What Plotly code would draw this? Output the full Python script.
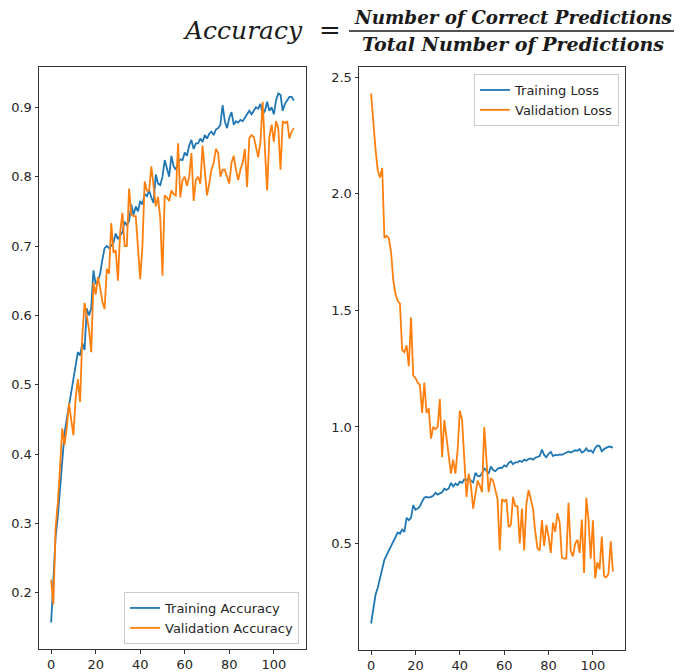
import plotly.graph_objects as go

epochs = list(range(110))

train_acc = [
    0.157, 0.21, 0.28, 0.31, 0.35, 0.39, 0.43, 0.45, 0.47, 0.49,
    0.51, 0.53, 0.547, 0.542, 0.56, 0.55, 0.61, 0.60, 0.61, 0.665,
    0.645, 0.65, 0.66, 0.68, 0.697, 0.70, 0.697, 0.70, 0.705, 0.718,
    0.71, 0.715, 0.72, 0.735, 0.73, 0.736, 0.76, 0.745, 0.757, 0.75,
    0.765, 0.76, 0.775, 0.772, 0.78, 0.77, 0.762, 0.803, 0.79, 0.788,
    0.80, 0.824, 0.81, 0.80, 0.83, 0.815, 0.81, 0.82, 0.825, 0.824,
    0.835, 0.83, 0.845, 0.853, 0.84, 0.848, 0.848, 0.855, 0.85, 0.86,
    0.855, 0.862, 0.865, 0.86, 0.868, 0.87, 0.875, 0.903, 0.88, 0.87,
    0.885, 0.893, 0.875, 0.88, 0.878, 0.882, 0.88, 0.885, 0.89, 0.895,
    0.89, 0.895, 0.90, 0.898, 0.905, 0.89, 0.895, 0.908, 0.895, 0.90,
    0.89, 0.91, 0.92, 0.918, 0.895, 0.905, 0.91, 0.915, 0.915, 0.91,
]

val_acc = [
    0.219, 0.183, 0.293, 0.33, 0.38, 0.437, 0.413, 0.437, 0.473, 0.45,
    0.427, 0.48, 0.508, 0.475, 0.57, 0.618, 0.60, 0.58, 0.547, 0.647,
    0.63, 0.655, 0.64, 0.62, 0.609, 0.667, 0.66, 0.733, 0.69, 0.694,
    0.65, 0.72, 0.748, 0.70, 0.70, 0.783, 0.745, 0.743, 0.743, 0.69,
    0.652, 0.70, 0.793, 0.78, 0.78, 0.815, 0.79, 0.757, 0.771, 0.74,
    0.657, 0.773, 0.77, 0.765, 0.78, 0.775, 0.773, 0.848, 0.77, 0.795,
    0.80, 0.787, 0.80, 0.834, 0.765, 0.795, 0.80, 0.79, 0.845, 0.81,
    0.773, 0.79, 0.81, 0.82, 0.84, 0.834, 0.80, 0.81, 0.81, 0.80,
    0.79, 0.82, 0.83, 0.81, 0.795, 0.81, 0.82, 0.84, 0.785, 0.856,
    0.86, 0.857, 0.84, 0.828, 0.85, 0.908, 0.84, 0.78, 0.857, 0.875,
    0.85, 0.88, 0.87, 0.81, 0.88, 0.877, 0.88, 0.855, 0.865, 0.87,
]

# The "Training Loss" curve in the reference carries the training accuracy values
train_loss = list(train_acc)

val_loss = [
    2.43, 2.30, 2.19, 2.10, 2.07, 2.11, 1.81, 1.82, 1.81, 1.75,
    1.63, 1.57, 1.54, 1.53, 1.33, 1.32, 1.35, 1.26, 1.47, 1.22,
    1.21, 1.19, 1.18, 1.06, 1.19, 1.06, 1.08, 0.95, 1.00, 0.99,
    1.00, 1.12, 0.87, 1.03, 0.96, 0.88, 0.80, 0.86, 0.80, 0.90,
    1.07, 1.03, 0.85, 0.70, 0.80, 0.75, 0.65, 0.72, 0.77, 0.75,
    0.72, 1.00, 0.86, 0.72, 0.78, 0.77, 0.73, 0.69, 0.47, 0.69,
    0.68, 0.69, 0.57, 0.58, 0.70, 0.66, 0.66, 0.50, 0.65, 0.47,
    0.67, 0.73, 0.69, 0.65, 0.55, 0.48, 0.47, 0.60, 0.49, 0.58,
    0.53, 0.46, 0.59, 0.55, 0.63, 0.59, 0.44, 0.435, 0.435, 0.675,
    0.467, 0.445, 0.50, 0.516, 0.46, 0.603, 0.374, 0.696, 0.603, 0.435,
    0.60, 0.35, 0.42, 0.39, 0.53, 0.36, 0.355, 0.37, 0.51, 0.38,
]

x_ticks = [0, 20, 40, 60, 80, 100]
acc_ticks = [0.2, 0.3, 0.4, 0.5, 0.6, 0.7, 0.8, 0.9]
loss_ticks = [0.5, 1.0, 1.5, 2.0, 2.5]

BLUE = "#1f77b4"
ORANGE = "#ff7f0e"
OFF = 8  # the page body adds an 8px margin
W, H = 682 - OFF, 672 - OFF
FONT = "DejaVu Sans"
TXT = "#262626"


def px(x):
    return (x - OFF) / W


def py(y):
    return 1 - (y - OFF) / H


def mpl_range(*series):
    lo = min(min(s) for s in series)
    hi = max(max(s) for s in series)
    pad = (hi - lo) * 0.05
    return [lo - pad, hi + pad]


xr = [min(epochs) - 0.05 * (max(epochs) - min(epochs)), max(epochs) + 0.05 * (max(epochs) - min(epochs))]

fig = go.Figure()
lw = 1.8
fig.add_trace(go.Scatter(x=epochs, y=train_acc, mode="lines", name="Training Accuracy",
                         line=dict(color=BLUE, width=lw), xaxis="x", yaxis="y", legend="legend"))
fig.add_trace(go.Scatter(x=epochs, y=val_acc, mode="lines", name="Validation Accuracy",
                         line=dict(color=ORANGE, width=lw), xaxis="x", yaxis="y", legend="legend"))
fig.add_trace(go.Scatter(x=epochs, y=train_loss, mode="lines", name="Training Loss",
                         line=dict(color=BLUE, width=lw), xaxis="x2", yaxis="y2", legend="legend2"))
fig.add_trace(go.Scatter(x=epochs, y=val_loss, mode="lines", name="Validation Loss",
                         line=dict(color=ORANGE, width=lw), xaxis="x2", yaxis="y2", legend="legend2"))

axis_common = dict(showgrid=False, zeroline=False, showline=True, linecolor="#333333", linewidth=1,
                   mirror=True, ticks="outside", ticklen=3.5, tickcolor="#333333", tickwidth=1,
                   tickfont=dict(family=FONT, size=13, color=TXT), automargin=False)

# pixel boxes of the two axes (reference window pixels)
L = dict(x0=39, x1=306, y0=67, y1=649)
R = dict(x0=359, x1=625, y0=67, y1=650)

fig.update_layout(
    width=W, height=H,
    margin=dict(l=0, r=0, t=0, b=0),
    paper_bgcolor="white", plot_bgcolor="white",
    showlegend=True,
    xaxis=dict(domain=[px(L["x0"]), px(L["x1"])], range=xr, tickvals=x_ticks, anchor="y", **axis_common),
    yaxis=dict(domain=[py(L["y1"]), py(L["y0"])], range=mpl_range(train_acc, val_acc),
               tickvals=acc_ticks, tickformat=".1f", anchor="x", **axis_common),
    xaxis2=dict(domain=[px(R["x0"]), px(R["x1"])], range=xr, tickvals=x_ticks, anchor="y2", **axis_common),
    yaxis2=dict(domain=[py(R["y1"]), py(R["y0"])], range=mpl_range(train_loss, val_loss),
                tickvals=loss_ticks, tickformat=".1f", anchor="x2", **axis_common),
    legend=dict(x=px(299), y=py(644), xanchor="right", yanchor="bottom",
                bgcolor="rgba(255,255,255,0.85)", bordercolor="#cccccc", borderwidth=1,
                font=dict(family=FONT, size=13, color=TXT), tracegroupgap=0,
                itemwidth=30),
    legend2=dict(x=px(619), y=py(74), xanchor="right", yanchor="top",
                 bgcolor="rgba(255,255,255,0.85)", bordercolor="#cccccc", borderwidth=1,
                 font=dict(family=FONT, size=13, color=TXT), tracegroupgap=0,
                 itemwidth=30),
)

# Formula title: Accuracy = Number of Correct Predictions / Total Number of Predictions
TFONT = "DejaVu Serif"
INK = "#1a1a1a"
fig.add_annotation(text="<i>Accuracy</i>", x=px(243), y=py(31), xref="paper", yref="paper",
                   showarrow=False, xanchor="center", yanchor="middle",
                   font=dict(family=TFONT, size=25, color=INK))
fig.add_annotation(text="=", x=px(330), y=py(30), xref="paper", yref="paper",
                   showarrow=False, xanchor="center", yanchor="middle",
                   font=dict(family=TFONT, size=26, color=INK))
fig.add_annotation(text="<b><i>Number of Correct Predictions</i></b>", x=px(513), y=py(18),
                   xref="paper", yref="paper", showarrow=False, xanchor="center", yanchor="middle",
                   font=dict(family=TFONT, size=18.3, color=INK))
fig.add_annotation(text="<b><i>Total Number of Predictions</i></b>", x=px(513), y=py(44),
                   xref="paper", yref="paper", showarrow=False, xanchor="center", yanchor="middle",
                   font=dict(family=TFONT, size=19, color=INK))
fig.add_shape(type="line", xref="paper", yref="paper", x0=px(349), x1=px(681),
              y0=py(31), y1=py(31), line=dict(color=INK, width=1.6))

fig.write_html("out.html")
